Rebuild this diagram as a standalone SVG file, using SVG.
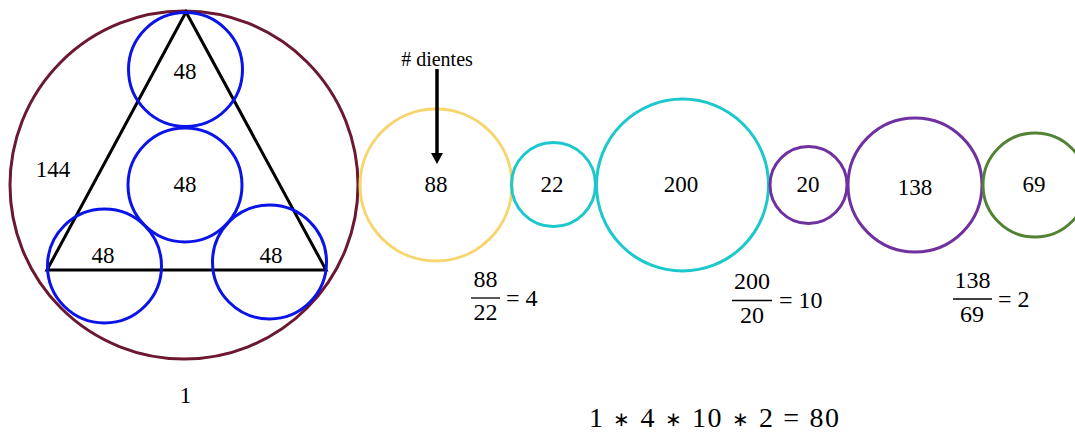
<svg xmlns="http://www.w3.org/2000/svg" width="1075" height="432" viewBox="0 0 1075 432">
<style>
.c{fill:none;stroke-width:3}
.t{font-family:"Liberation Serif","Times New Roman",serif;font-size:23px;fill:#000;text-anchor:middle}
.m{font-family:"Liberation Serif","Times New Roman",serif;font-size:24px;fill:#000}
.s{font-size:20px}
.blue{stroke:#0a14e6}
</style>
<defs>
<marker id="ah" markerUnits="userSpaceOnUse" markerWidth="12" markerHeight="12" refX="0" refY="6" orient="auto">
<path d="M0,0 L11,6 L0,12 z" fill="#000"/>
</marker>
</defs>
<rect width="1075" height="432" fill="#fff"/>
<g id="outer-gear">
<circle class="c" cx="184" cy="185" r="174" stroke="#6b1830"/>
<text class="t" x="53" y="177">144</text>
<text class="t" x="185.5" y="403">1</text>
</g>
<g id="triangle">
<polygon points="186,12 47,270 326,270" fill="none" stroke="#000" stroke-width="3" stroke-linejoin="miter"/>
</g>
<g id="gear-top">
<circle class="c blue" cx="185.5" cy="69.5" r="57"/>
<text class="t" x="185" y="79">48</text>
</g>
<g id="gear-middle">
<circle class="c blue" cx="185" cy="185" r="57"/>
<text class="t" x="185" y="192">48</text>
</g>
<g id="gear-bottom-left">
<circle class="c blue" cx="104.5" cy="266" r="57"/>
<text class="t" x="103" y="263">48</text>
</g>
<g id="gear-bottom-right">
<circle class="c blue" cx="269.5" cy="262" r="57"/>
<text class="t" x="271" y="263">48</text>
</g>
<g id="label-dientes">
<text class="t" x="437" y="66" style="font-size:20px">#  dientes</text>
</g>
<g id="gear-88">
<circle class="c" cx="436" cy="185" r="76" stroke="#f8d46c"/>
<text class="t" x="436" y="192">88</text>
</g>
<g id="gear-22">
<circle class="c" cx="553.5" cy="184.5" r="42" stroke="#1cc8cc"/>
<text class="t" x="552" y="192">22</text>
</g>
<g id="gear-200">
<circle class="c" cx="682.5" cy="185" r="86" stroke="#1cc8cc"/>
<text class="t" x="681" y="192">200</text>
</g>
<g id="gear-20">
<circle class="c" cx="808.5" cy="185" r="38.5" stroke="#7030a0"/>
<text class="t" x="808" y="192">20</text>
</g>
<g id="gear-138">
<circle class="c" cx="915" cy="185" r="67" stroke="#7030a0"/>
<text class="t" x="915" y="195">138</text>
</g>
<g id="gear-69">
<circle class="c" cx="1035" cy="185" r="52" stroke="#548235"/>
<text class="t" x="1034" y="192">69</text>
</g>
<g id="ratio-1">
<text class="m" x="485.5" y="287" text-anchor="middle">88</text>
<line x1="471" y1="298" x2="500" y2="298" stroke="#000" stroke-width="1.3"/>
<text class="m" x="485.5" y="320" text-anchor="middle">22</text>
<text class="m" x="506" y="306">= 4</text>
</g>
<g id="ratio-2">
<text class="m" x="752" y="289" text-anchor="middle">200</text>
<line x1="732" y1="300.5" x2="772" y2="300.5" stroke="#000" stroke-width="1.3"/>
<text class="m" x="752" y="323" text-anchor="middle">20</text>
<text class="m" x="779" y="308">= 10</text>
</g>
<g id="ratio-3">
<text class="m" x="972.5" y="288" text-anchor="middle">138</text>
<line x1="953" y1="299" x2="992" y2="299" stroke="#000" stroke-width="1.3"/>
<text class="m" x="972" y="322" text-anchor="middle">69</text>
<text class="m" x="998" y="307">= 2</text>
</g>
<g id="product">
<text class="m" x="589" y="427" style="font-size:28px" textLength="250" lengthAdjust="spacing">1 <tspan class="s" dy="-1">∗</tspan><tspan dy="1"> 4 </tspan><tspan class="s" dy="-1">∗</tspan><tspan dy="1"> 10 </tspan><tspan class="s" dy="-1">∗</tspan><tspan dy="1"> 2 = 80</tspan></text>
</g>
<g id="connectors">
<line x1="437" y1="69" x2="437" y2="153" stroke="#000" stroke-width="3.5" marker-end="url(#ah)"/>
</g>
</svg>
